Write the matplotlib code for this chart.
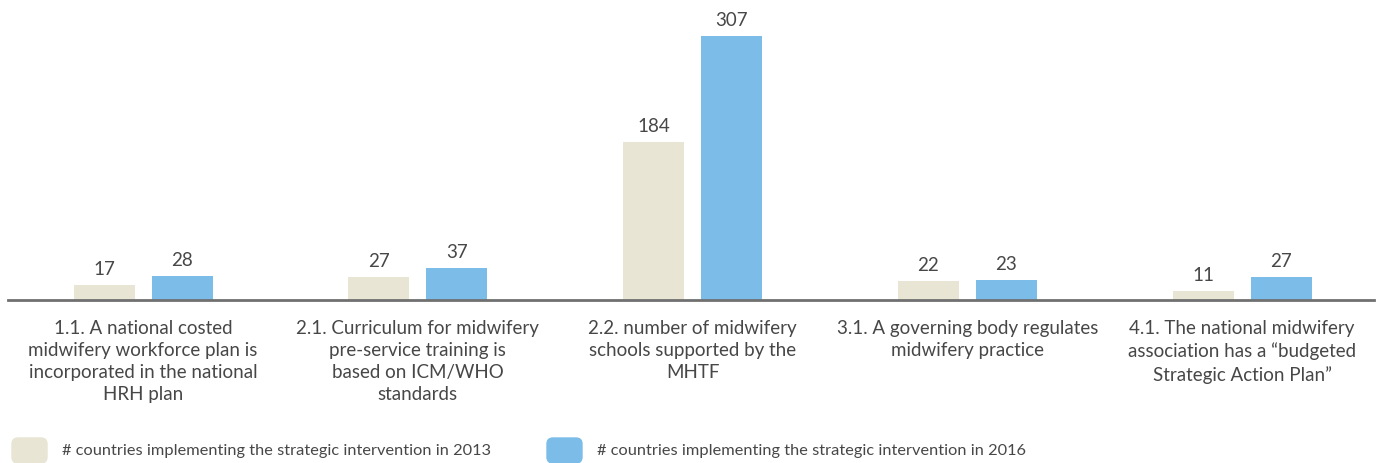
import matplotlib
matplotlib.use("Agg")
import matplotlib.pyplot as plt
from matplotlib.patches import FancyBboxPatch

# Strategic interventions and country counts
categories = [
    "1.1. A national costed\nmidwifery workforce plan is\nincorporated in the national\nHRH plan",
    "2.1. Curriculum for midwifery\npre-service training is\nbased on ICM/WHO\nstandards",
    "2.2. number of midwifery\nschools supported by the\nMHTF",
    "3.1. A governing body regulates\nmidwifery practice",
    "4.1. The national midwifery\nassociation has a \u201cbudgeted\nStrategic Action Plan\u201d",
]
values_2013 = [17, 27, 184, 22, 11]
values_2016 = [28, 37, 307, 23, 27]
legend_labels = [
    "# countries implementing the strategic intervention in 2013",
    "# countries implementing the strategic intervention in 2016",
]

BEIGE = "#e8e5d4"
BLUE = "#7bbde8"
TEXT = "#474747"

plt.rcParams['font.family'] = ['Lato', 'DejaVu Sans']

W, H = 1382, 463
fig = plt.figure(figsize=(W / 100, H / 100), dpi=100)

# axes: baseline at y=300 px, top at y=10 px
ax = fig.add_axes([8 / W, (H - 300) / H, 1366 / W, 290 / H])
x = list(range(len(categories)))
off = 0.142
bw = 0.222

b1 = ax.bar([i - off for i in x], values_2013, width=bw, color=BEIGE)
b2 = ax.bar([i + off for i in x], values_2016, width=bw, color=BLUE)

for bars, vals in ((b1, values_2013), (b2, values_2016)):
    for rect, v in zip(bars, vals):
        ax.annotate(str(v), (rect.get_x() + rect.get_width() / 2, v),
                    xytext=(0, 5), textcoords="offset points",
                    ha="center", va="bottom", fontsize=13.5, color=TEXT)

ax.set_xlim(-0.492, 4.48)
ax.set_ylim(0, 337.2)
for s in ("top", "right", "left"):
    ax.spines[s].set_visible(False)
ax.spines["bottom"].set_color("#707070")
ax.spines["bottom"].set_linewidth(2)
ax.set_yticks([])
ax.set_xticks(x)
ax.set_xticklabels(categories, fontsize=13.5, color=TEXT, linespacing=1.36)
ax.tick_params(axis="x", length=0, pad=14.5)

# legend swatches and text, placed in inches
for sx, col, label in zip((12, 547), (BEIGE, BLUE), legend_labels):
    fig.patches.append(FancyBboxPatch(
        (sx / 100, 0.0), 0.35, 0.25,
        boxstyle="round,pad=0,rounding_size=0.06",
        transform=fig.dpi_scale_trans, color=col))
    fig.text((sx + 50) / W, (H - 451) / H, label, fontsize=11.8,
             color=TEXT, va="center", ha="left")

fig.savefig("out.png", dpi=100)
